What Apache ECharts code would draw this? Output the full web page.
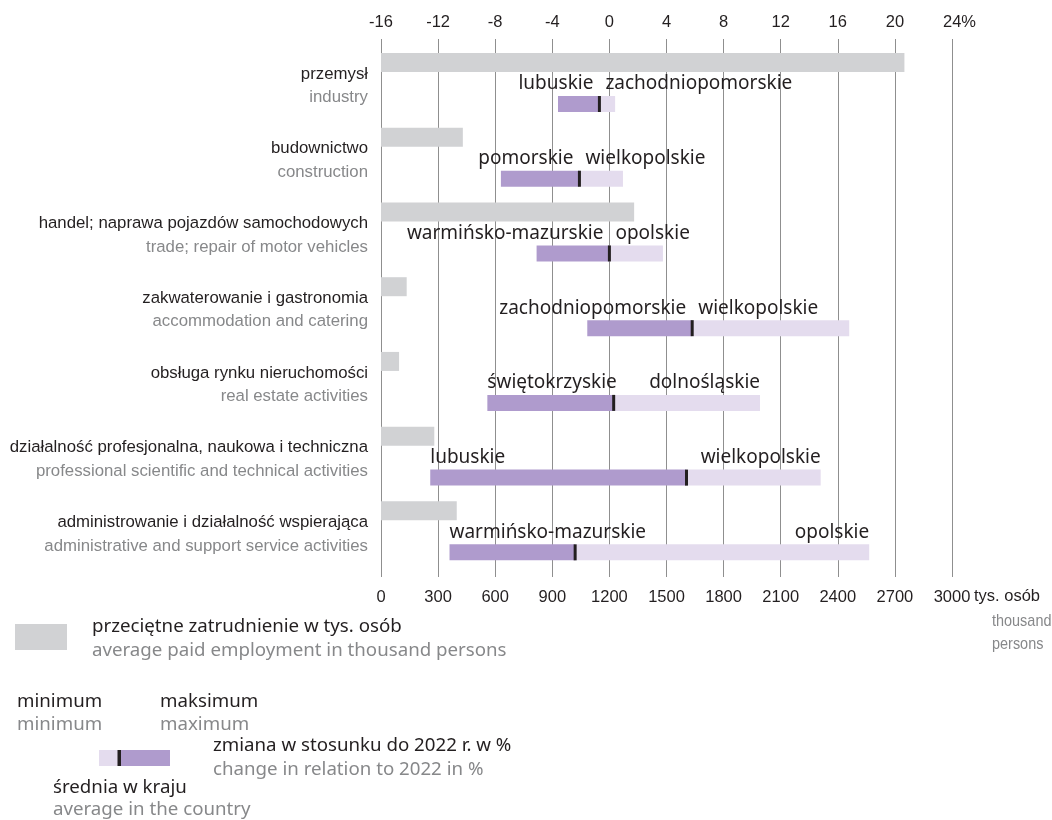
<!DOCTYPE html>
<html>
<head>
<meta charset="utf-8">
<script src="https://cdn.jsdelivr.net/npm/echarts@6/dist/echarts.min.js"></script>
<style>
html,body{margin:0;padding:0;background:#fff;}
#c{width:1052px;height:820px;}
</style>
</head>
<body>
<div id="c"></div>
<script>
const categoriesPL = ['przemysł','budownictwo','handel; naprawa pojazdów samochodowych','zakwaterowanie i gastronomia','obsługa rynku nieruchomości','działalność profesjonalna, naukowa i techniczna','administrowanie i działalność wspierająca'];
const categoriesEN = ['industry','construction','trade; repair of motor vehicles','accommodation and catering','real estate activities','professional scientific and technical activities','administrative and support service activities'];
const employment = [2750, 430, 1330, 135, 95, 280, 398];
const minChange = [-3.6, -7.6, -5.1, -1.55, -8.55, -12.55, -11.2];
const avgChange = [-0.7, -2.1, 0.0, 5.8, 0.3, 5.4, -2.4];
const maxChange = [0.4, 0.95, 3.75, 16.8, 10.55, 14.8, 18.2];
const minRegion = ['lubuskie','pomorskie','warmińsko-mazurskie','zachodniopomorskie','świętokrzyskie','lubuskie','warmińsko-mazurskie'];
const maxRegion = ['zachodniopomorskie','wielkopolskie','opolskie','wielkopolskie','dolnośląskie','wielkopolskie','opolskie'];
const bottomTicks = {min:0, max:3000, interval:300};
const topTicks = {min:-16, max:24, interval:4};

const DARK = '#231f20', GREY_T = '#87888a';
const GRAY_BAR = '#d1d2d4', PURPLE = '#af9bcd', LIGHT = '#e4dcee';
const CAT_FONT = '"Liberation Sans", Arial, sans-serif';
const LBL_FONT = '"Noto Sans", "Open Sans", sans-serif';
const LBL_SIZE = 19;
const LEG = '18.7px ' + LBL_FONT;

const mctx = document.createElement('canvas').getContext('2d');
function tw(t, size, fam){ mctx.font = size + 'px ' + fam; return mctx.measureText(t).width; }

const chart = echarts.init(document.getElementById('c'), null, {renderer:'canvas'});

const grayData = employment.map((v,i)=>[v,i]);
const rangeData = minChange.map((v,i)=>[v, avgChange[i], maxChange[i], i]);

function legText(text, x, y, fill){
  return {type:'text', x:x, y:y, style:{text:text, fill:fill, font:LEG, verticalAlign:'middle'}};
}

const option = {
  animation:false,
  backgroundColor:'#fff',
  grid:{left:381, right:100, top:39, bottom:243, containLabel:false},
  xAxis:[
    {type:'value', position:'bottom', min:bottomTicks.min, max:bottomTicks.max, interval:bottomTicks.interval,
     axisLine:{show:false}, axisTick:{show:false},
     axisLabel:{color:DARK, fontSize:16.5, fontFamily:CAT_FONT, margin:12, formatter:v => String(v)},
     splitLine:{show:true, lineStyle:{color:'#8f8f8f', width:1}}},
    {type:'value', position:'top', min:topTicks.min, max:topTicks.max, interval:topTicks.interval,
     axisLine:{show:false}, axisTick:{show:false}, splitLine:{show:false},
     axisLabel:{color:DARK, fontSize:16.5, fontFamily:CAT_FONT, margin:8,
       formatter:v => v === topTicks.max ? '{pad|}' + v + '%' : String(v),
       rich:{pad:{width:15}}}}
  ],
  yAxis:{type:'value', min:0, max:7.2, inverse:true, show:false},
  series:[
    {type:'custom', xAxisIndex:0, yAxisIndex:0, data:grayData, clip:false,
     renderItem:(params, api)=>{
       const i = api.value(1);
       const p0 = api.coord([0, i+0.315]);
       const p1 = api.coord([api.value(0), i+0.315]);
       return {type:'group', children:[
         {type:'rect', shape:{x:p0[0], y:p0[1]-9.5, width:p1[0]-p0[0], height:19}, style:{fill:GRAY_BAR}},
         {type:'text', style:{text:categoriesPL[i], x:368, y:p0[1]+11.5, align:'right', verticalAlign:'middle', fill:DARK, font:'16.8px '+CAT_FONT}},
         {type:'text', style:{text:categoriesEN[i], x:368, y:p0[1]+35, align:'right', verticalAlign:'middle', fill:GREY_T, font:'16.8px '+CAT_FONT}}
       ]};
     }},
    {type:'custom', xAxisIndex:1, yAxisIndex:0, data:rangeData, clip:false,
     renderItem:(params, api)=>{
       const i = api.value(3);
       const yc = api.coord([0, i+0.87])[1];
       const xMin = api.coord([api.value(0), 0])[0];
       const xAvg = api.coord([api.value(1), 0])[0];
       const xMax = api.coord([api.value(2), 0])[0];
       const h = 16;
       const wMin = tw(minRegion[i], LBL_SIZE, LBL_FONT);
       const wMax = tw(maxRegion[i], LBL_SIZE, LBL_FONT);
       let minX, minAlign, maxX, maxAlign;
       if (xMin + wMin + 8 > xMax - wMax) {
         minX = xAvg - 6; minAlign = 'right';
         maxX = xAvg + 6; maxAlign = 'left';
       } else {
         minX = xMin; minAlign = 'left';
         maxX = xMax; maxAlign = 'right';
       }
       const ty = yc - h/2 - 12;
       return {type:'group', children:[
         {type:'rect', shape:{x:xAvg, y:yc-h/2, width:xMax-xAvg, height:h}, style:{fill:LIGHT}},
         {type:'rect', shape:{x:xMin, y:yc-h/2, width:xAvg-xMin, height:h}, style:{fill:PURPLE}},
         {type:'rect', shape:{x:xAvg-1.5, y:yc-h/2, width:3, height:h}, style:{fill:DARK}},
         {type:'text', style:{text:minRegion[i], x:minX, y:ty, align:minAlign, verticalAlign:'middle', fill:DARK, font:LBL_SIZE+'px '+LBL_FONT}},
         {type:'text', style:{text:maxRegion[i], x:maxX, y:ty, align:maxAlign, verticalAlign:'middle', fill:DARK, font:LBL_SIZE+'px '+LBL_FONT}}
       ]};
     }}
  ],
  graphic:[
    {type:'text', x:974, y:596, style:{text:'tys. osób', fill:DARK, font:'16.5px '+CAT_FONT, verticalAlign:'middle'}},
    {type:'text', x:992, y:621, scaleX:0.85, style:{text:'thousand', fill:GREY_T, font:'17px '+CAT_FONT, verticalAlign:'middle'}},
    {type:'text', x:992, y:644, scaleX:0.85, style:{text:'persons', fill:GREY_T, font:'17px '+CAT_FONT, verticalAlign:'middle'}},
    {type:'rect', shape:{x:15, y:624, width:52, height:26}, style:{fill:GRAY_BAR}},
    legText('przeciętne zatrudnienie w tys. osób', 92, 627, DARK),
    legText('average paid employment in thousand persons', 92, 651, GREY_T),
    legText('minimum', 17, 702, DARK),
    legText('maksimum', 160, 702, DARK),
    legText('minimum', 17, 725, GREY_T),
    legText('maximum', 160, 725, GREY_T),
    {type:'rect', shape:{x:99, y:750, width:19, height:16}, style:{fill:LIGHT}},
    {type:'rect', shape:{x:121, y:750, width:49, height:16}, style:{fill:PURPLE}},
    {type:'rect', shape:{x:117.5, y:750, width:3.5, height:16}, style:{fill:DARK}},
    legText('zmiana w stosunku do 2022 r. w %', 213, 746, DARK),
    legText('change in relation to 2022 in %', 213, 770, GREY_T),
    legText('średnia w kraju', 53, 788, DARK),
    legText('average in the country', 53, 810, GREY_T)
  ]
};
chart.setOption(option);
</script>
</body>
</html>
